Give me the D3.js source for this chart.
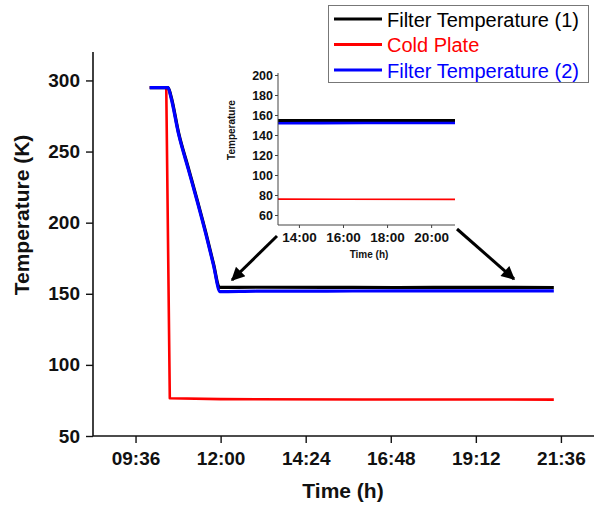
<!DOCTYPE html>
<html><head><meta charset="utf-8">
<script src="https://cdn.jsdelivr.net/npm/d3@7"></script>
<style>
body{margin:0;background:#fff;}
svg text{font-family:"Liberation Sans",Arial,sans-serif;}
</style></head>
<body><svg id="c" width="595" height="512"></svg>
<script>
// ---- data ----
const filter1 = [["10:00",295],["10:31",295],["10:36",289],["10:49",263],["11:05",239],["11:21",215],["11:35",193],["11:48",171],["11:58",154.5],["13:00",154.6],["15:00",154.5],["17:00",154.4],["19:00",154.5],["21:24",154.4]];
const coldPlate = [["10:00",295],["10:28",295],["10:34",76.5],["12:00",75.9],["16:00",75.7],["21:24",75.6]];
const filter2 = [["10:00",295],["10:31",295],["10:36",288],["10:49",262],["11:05",238],["11:21",214],["11:35",192],["11:48",170],["11:59",151.5],["13:00",151.8],["15:00",151.9],["17:00",152],["19:00",152],["21:24",152]];
const seriesNames = ["Filter Temperature (1)","Cold Plate","Filter Temperature (2)"];
const seriesColors = ["#000000","#ff0000","#0000ff"];
const xTickLabels = ["09:36","12:00","14:24","16:48","19:12","21:36"];
const yTicks = [50,100,150,200,250,300];
const insetXTickLabels = ["14:00","16:00","18:00","20:00"];
const insetYTicks = [60,80,100,120,140,160,180,200];

// ---- helpers ----
const toMin = s => { const [h,m] = s.split(":").map(Number); return h*60+m; };
const fmt = m => { const h=Math.floor(m/60), mm=Math.round(m%60); return String(h).padStart(2,"0")+":"+String(mm).padStart(2,"0"); };

const svg = d3.select("#c");
const FONT = '"Liberation Sans",Arial,sans-serif';

// ---- main chart ----
const x = d3.scaleLinear().domain([toMin("08:24"), toMin("22:32")]).range([93, 594]);
const y = d3.scaleLinear().domain([50, 320]).range([436, 52]);

const lineSmooth = d3.line().x(d => x(toMin(d[0]))).y(d => y(d[1])).curve(d3.curveMonotoneX);
const lineStraight = d3.line().x(d => x(toMin(d[0]))).y(d => y(d[1]));

const draw = [[coldPlate,1,2.6,lineStraight],[filter1,0,3.2,lineSmooth],[filter2,2,3.2,lineSmooth]];
const gMain = svg.append("g");
draw.forEach(([data,ci,w,ln]) => {
  gMain.append("path").datum(data).attr("d", ln)
    .attr("fill","none").attr("stroke",seriesColors[ci]).attr("stroke-width",w)
    .attr("stroke-linejoin","round");
});

// axes
const xMajor = xTickLabels.map(toMin);
const xMinor = [toMin("10:48"),toMin("13:12"),toMin("15:36"),toMin("18:00"),toMin("20:24")];
const yMinor = [75,125,175,225,275];

const gx = svg.append("g").attr("transform","translate(0,436)");
gx.call(d3.axisBottom(x).tickValues(xMinor).tickSize(4).tickFormat(""));
gx.call(d3.axisBottom(x).tickValues(xMajor).tickSize(7).tickPadding(8.5).tickFormat(fmt));
gx.selectAll("text").attr("font-size",19).attr("font-weight","bold").attr("fill","#111").attr("font-family",FONT);

const gy = svg.append("g").attr("transform","translate(93,0)");
gy.call(d3.axisLeft(y).tickValues(yMinor).tickSize(4).tickFormat(""));
gy.call(d3.axisLeft(y).tickValues(yTicks).tickSize(7).tickPadding(6).tickFormat(d3.format("d")));
gy.selectAll("text").attr("font-size",19).attr("font-weight","bold").attr("fill","#111").attr("font-family",FONT);
[gx,gy].forEach(g => { g.selectAll("path.domain").attr("stroke","#111").attr("stroke-width",1.6);
  g.selectAll(".tick line").attr("stroke","#111").attr("stroke-width",1.4); });
gx.select("path.domain").attr("d","M93,0H594");
gy.select("path.domain").attr("d","M0,52V436");

svg.append("text").attr("x",343).attr("y",498).attr("text-anchor","middle")
  .attr("font-size",21).attr("font-weight","bold").attr("fill","#111").text("Time (h)");
svg.append("text").attr("transform","translate(29,215) rotate(-90)").attr("text-anchor","middle")
  .attr("font-size",21).attr("font-weight","bold").attr("fill","#111").text("Temperature (K)");

// ---- inset ----
const ix = d3.scaleLinear().domain([toMin("13:03"), toMin("21:05")]).range([278, 455]);
const iy = d3.scaleLinear().domain([50, 202]).range([225, 73]);
const iline = d3.line().x(d => ix(toMin(d[0]))).y(d => iy(d[1]));
const defs = svg.append("defs");
defs.append("clipPath").attr("id","iclip").append("rect").attr("x",278).attr("y",73).attr("width",177).attr("height",152);
const gIn = svg.append("g").attr("clip-path","url(#iclip)");
[[coldPlate,1,1.6],[filter1,0,3],[filter2,2,2.6]].forEach(([data,ci,w]) => {
  gIn.append("path").datum(data).attr("d", iline)
    .attr("fill","none").attr("stroke",seriesColors[ci]).attr("stroke-width",w);
});
const igx = svg.append("g").attr("transform","translate(0,225)");
igx.call(d3.axisBottom(ix).tickValues(d3.range(14,21).map(h=>h*60)).tickSize(2).tickFormat(""));
igx.call(d3.axisBottom(ix).tickValues(insetXTickLabels.map(toMin)).tickSize(3).tickPadding(4).tickFormat(fmt));
igx.selectAll("text").attr("font-size",13.5).attr("font-weight","bold").attr("fill","#111").attr("font-family",FONT);
const igy = svg.append("g").attr("transform","translate(278,0)");
igy.call(d3.axisLeft(iy).tickValues(d3.range(50,201,10)).tickSize(2).tickFormat(""));
igy.call(d3.axisLeft(iy).tickValues(insetYTicks).tickSize(3).tickPadding(2).tickFormat(d3.format("d")));
igy.selectAll("text").attr("font-size",12.5).attr("font-weight","bold").attr("fill","#111").attr("font-family",FONT);
[igx,igy].forEach(g => { g.selectAll("path.domain").attr("stroke","#444").attr("stroke-width",1);
  g.selectAll(".tick line").attr("stroke","#444").attr("stroke-width",1); });
igx.select("path.domain").attr("d","M278,0H455");
igy.select("path.domain").attr("d","M0,73V225");
svg.append("text").attr("x",369).attr("y",258).attr("text-anchor","middle")
  .attr("font-size",10).attr("font-weight","bold").attr("fill","#111").text("Time (h)");
svg.append("text").attr("transform","translate(235,130) rotate(-90)").attr("text-anchor","middle")
  .attr("font-size",10).attr("font-weight","bold").attr("fill","#111").text("Temperature");

// ---- arrows ----
defs.append("marker").attr("id","ah").attr("viewBox","0 0 10 10").attr("refX",9).attr("refY",5)
  .attr("markerWidth",5.5).attr("markerHeight",4.5).attr("orient","auto").attr("markerUnits","strokeWidth")
  .append("path").attr("d","M0,0L10,5L0,10Z").attr("fill","#000");
const arrows = [[[277,236],[232,280]],[[457,229],[514,279]]];
arrows.forEach(([a,b]) => {
  svg.append("line").attr("x1",a[0]).attr("y1",a[1]).attr("x2",b[0]).attr("y2",b[1])
    .attr("stroke","#000").attr("stroke-width",3).attr("marker-end","url(#ah)");
});

// ---- legend ----
const lg = svg.append("g");
lg.append("rect").attr("x",328.5).attr("y",5.5).attr("width",260).attr("height",77)
  .attr("fill","#fff").attr("stroke","#777").attr("stroke-width",1);
seriesNames.forEach((n,i) => {
  const yy = 19 + i*25.5;
  lg.append("line").attr("x1",334).attr("x2",382).attr("y1",yy).attr("y2",yy)
    .attr("stroke",seriesColors[i]).attr("stroke-width",2.8);
  lg.append("text").attr("x",387).attr("y",yy+7.5).attr("font-size",20)
    .attr("fill",seriesColors[i]).text(n);
});
</script></body></html>
